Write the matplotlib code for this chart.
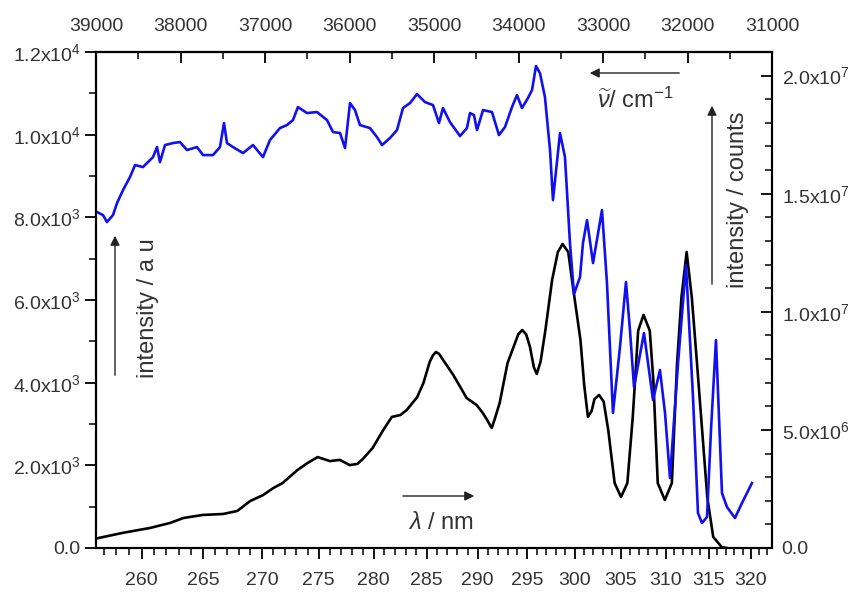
import numpy as np
import matplotlib
matplotlib.use("Agg")
import matplotlib.pyplot as plt
from matplotlib.ticker import FixedLocator, MultipleLocator, FuncFormatter

plt.rcParams["font.family"] = "Liberation Sans"
plt.rcParams["mathtext.fontset"] = "custom"
plt.rcParams["mathtext.rm"] = "Liberation Sans"
plt.rcParams["mathtext.it"] = "Liberation Sans:italic"

# black trace: intensity (counts) vs wavelength (nm)
abs_nm = [256.5, 258.5, 260.7, 262.3, 263.4, 265.0, 266.7, 267.9, 269.0, 270.1,
          271.0, 271.8, 273.1, 274.0, 274.9, 276.0, 276.9, 277.8, 278.5, 279.0,
          279.9, 280.9, 281.7, 282.5, 283.1, 284.1, 284.7, 285.3, 285.6, 285.9,
          286.2, 286.6, 287.6, 288.9, 289.9, 290.5, 290.9, 291.4, 291.7, 292.2,
          293.0, 293.8, 294.1, 294.5, 294.9, 295.3, 295.7, 296.0, 296.4, 296.9,
          297.6, 298.2, 298.7, 299.3, 299.8, 300.6, 301.0, 301.4, 301.8, 302.1,
          302.6, 303.1, 303.6, 304.3, 305.0, 305.7, 306.3, 306.9, 307.5, 308.2,
          308.6, 309.1, 309.9, 310.7, 311.3, 311.8, 312.4, 313.0, 313.6, 314.8,
          315.5, 316.5, 317.1]
abs_counts = [0.41, 0.64, 0.85, 1.06, 1.27, 1.40, 1.44, 1.57, 1.99, 2.24,
              2.54, 2.75, 3.30, 3.60, 3.85, 3.68, 3.73, 3.51, 3.56, 3.77,
              4.23, 5.00, 5.55, 5.63, 5.84, 6.39, 6.99, 7.88, 8.15, 8.30,
              8.22, 7.96, 7.32, 6.35, 6.05, 5.72, 5.45, 5.08, 5.45, 6.14,
              7.83, 8.72, 9.05, 9.23, 9.05, 8.51, 7.65, 7.37, 7.90, 9.23,
              11.35, 12.53, 12.87, 12.53, 11.05, 8.81, 6.90, 5.55, 5.80, 6.30,
              6.48, 6.20, 5.00, 2.75, 2.16, 2.75, 5.55, 9.20, 9.87, 9.20,
              7.11, 2.75, 2.03, 2.75, 7.83, 10.6, 12.53, 10.6, 7.83, 2.16,
              0.47, 0.04, 0.0]
abs_counts = [v * 1e6 for v in abs_counts]

# blue trace: intensity (a u) vs wavenumber (cm-1)
exc_wn = [38988, 38917, 38870, 38799, 38751, 38680, 38598, 38538, 38444, 38325,
          38278, 38243, 38183, 38089, 38006, 37923, 37805, 37734, 37615, 37533,
          37485, 37450, 37379, 37260, 37142, 37024, 36941, 36823, 36740, 36669,
          36610, 36503, 36385, 36266, 36195, 36112, 36053, 35994, 35935, 35876,
          35758, 35675, 35615, 35521, 35438, 35367, 35284, 35201, 35107, 35012,
          34941, 34894, 34811, 34692, 34610, 34574, 34527, 34491, 34420, 34314,
          34231, 34160, 34077, 34018, 33959, 33888, 33840, 33793, 33746, 33687,
          33627, 33592, 33509, 33450, 33391, 33343, 33272, 33237, 33189, 33118,
          33012, 32953, 32882, 32799, 32728, 32681, 32633, 32515, 32408, 32326,
          32266, 32207, 32112, 32018, 31935, 31876, 31829, 31769, 31722, 31663,
          31592, 31533, 31438, 31355, 31237]
exc_int = [8128, 8055, 7886, 8055, 8346, 8660, 8974, 9265, 9216, 9458,
           9700, 9337, 9749, 9797, 9821, 9628, 9700, 9507, 9507, 9700,
           10281, 9797, 9700, 9555, 9749, 9458, 9870, 10160, 10232, 10353,
           10668, 10523, 10547, 10353, 10063, 10039, 9676, 10765, 10595, 10232,
           10160, 9942, 9749, 9918, 10111, 10644, 10765, 10982, 10789, 10716,
           10281, 10644, 10305, 9966, 10160, 10523, 10474, 10111, 10595, 10547,
           9990, 10184, 10668, 10958, 10644, 10886, 11079, 11660, 11490, 10910,
           9628, 8418, 10039, 9458, 7378, 6144, 6555, 7378, 7934, 6894,
           8176, 6410, 3266, 4862, 6435, 5273, 3895, 5201, 3580, 4306,
           3266, 1693, 4475, 6846, 3653, 847, 605, 750, 2854, 5032,
           1330, 992, 726, 1089, 1572]

nm_major = [260, 265, 270, 275, 280, 285, 290, 295, 300, 305, 310, 315, 320]
nm_minor = list(range(257, 323))
wn_major = [39000, 38000, 37000, 36000, 35000, 34000, 33000, 32000, 31000]
left_ticks = [0, 2000, 4000, 6000, 8000, 10000, 12000]
right_ticks = [0, 5e6, 1e7, 1.5e7, 2e7]

W, H = 851, 592
TXT = "#333333"


def sci(v, pos=None):
    if v == 0:
        return "0.0"
    e = int(np.floor(np.log10(v)))
    return f"{v / 10 ** e:.1f}x10$^{{{e}}}$"


def fx(px):
    return px / W


def fy(py):
    return 1 - py / H


fig = plt.figure(figsize=(W / 100, H / 100), dpi=100)
ax = fig.add_axes([fx(96), fy(548), (772 - 96) / W, (548 - 52) / H])
axr = ax.twinx()
ax.set_zorder(axr.get_zorder() + 1)
ax.patch.set_visible(False)

axr.plot(1e7 / np.array(abs_nm), abs_counts, color="black", lw=1.9)
ax.plot(exc_wn, exc_int, color="#1010f0", lw=1.9)

ax.set_xlim(39000, 31000)
ax.set_ylim(0, 12000)
axr.set_ylim(0, 2.1e7)

# bottom axis: wavelength ticks placed at their wavenumber positions
ax.xaxis.set_major_locator(FixedLocator([1e7 / l for l in nm_major]))
ax.xaxis.set_minor_locator(FixedLocator([1e7 / l for l in nm_minor]))
ax.set_xticklabels([str(l) for l in nm_major])

ax.yaxis.set_major_locator(FixedLocator(left_ticks))
ax.yaxis.set_minor_locator(MultipleLocator(1000))
ax.yaxis.set_major_formatter(FuncFormatter(sci))
axr.yaxis.set_major_locator(FixedLocator(right_ticks))
axr.yaxis.set_minor_locator(MultipleLocator(1e6))
axr.yaxis.set_major_formatter(FuncFormatter(sci))

top = ax.secondary_xaxis("top", functions=(lambda x: x, lambda x: x))
top.xaxis.set_major_locator(FixedLocator(wn_major))
top.xaxis.set_minor_locator(MultipleLocator(500))
top.set_xticklabels([str(w) for w in wn_major])

ax.tick_params(axis="x", which="major", direction="out", length=8, width=1.3,
               pad=9, labelsize=14, labelcolor=TXT)
ax.tick_params(axis="x", which="minor", direction="out", length=5, width=1.1)
ax.tick_params(axis="y", which="major", direction="out", length=8, width=1.3,
               pad=3, labelsize=14, labelcolor=TXT)
ax.tick_params(axis="y", which="minor", direction="out", length=5, width=1.1)
axr.tick_params(axis="y", which="major", direction="in", length=8, width=1.3,
                pad=7, labelsize=14, labelcolor=TXT)
axr.tick_params(axis="y", which="minor", direction="in", length=5, width=1.1)
top.tick_params(axis="x", which="major", direction="in", length=8, width=1.3,
                pad=12, labelsize=14, labelcolor=TXT)
top.tick_params(axis="x", which="minor", direction="in", length=5, width=1.1)

for a in (ax, axr):
    for s in a.spines.values():
        s.set_linewidth(1.5)
top.spines["top"].set_linewidth(1.5)

# axis labels drawn inside the plot with arrows
fig.text(fx(148), fy(308), "intensity / a u", rotation=90, ha="center",
         va="center", fontsize=17, color=TXT)
fig.text(fx(738), fy(200), "intensity / counts", rotation=90, ha="center",
         va="center", fontsize=17, color=TXT)
fig.text(fx(441), fy(523), r"$\mathit{\lambda}$ / nm", ha="center",
         va="center", fontsize=17, color=TXT)
fig.text(fx(635), fy(100), r"$\widetilde{\nu}$/ cm$^{-1}$", ha="center",
         va="center", fontsize=17, color=TXT)

arrow = dict(arrowstyle="-|>", color="#222222", lw=1.0, mutation_scale=14)
for (x0, y0), (x1, y1) in [((115, 378), (115, 233)), ((712, 287), (712, 103)),
                           ((400, 496), (477, 496)), ((682, 73), (587, 73))]:
    ax.annotate("", xy=(fx(x1), fy(y1)), xytext=(fx(x0), fy(y0)),
                xycoords="figure fraction", textcoords="figure fraction",
                arrowprops=arrow)

fig.savefig("out.png", dpi=100)
